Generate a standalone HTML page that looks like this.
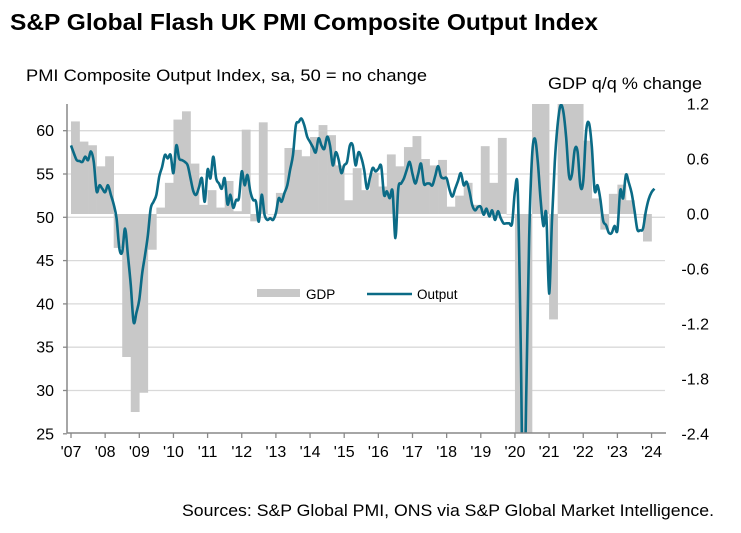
<!DOCTYPE html>
<html><head><meta charset="utf-8"><style>
html,body{margin:0;padding:0;background:#fff;overflow:hidden;width:741px;height:533px;font-family:"Liberation Sans",Arial,sans-serif;}
svg{display:block;}
svg text{font-family:"Liberation Sans",Arial,sans-serif;}
</style></head><body>
<svg id="chart" width="741" height="533" viewBox="0 0 741 533" xmlns="http://www.w3.org/2000/svg">
<rect width="741" height="533" fill="#fff"/>
<text x="10" y="30" font-size="23" font-weight="bold" fill="#000" textLength="588" lengthAdjust="spacingAndGlyphs">S&amp;P Global Flash UK PMI Composite Output Index</text>
<text x="26" y="81" font-size="16.5" fill="#000" textLength="401" lengthAdjust="spacingAndGlyphs">PMI Composite  Output  Index, sa, 50 = no change</text>
<text x="548" y="89" font-size="16.5" fill="#000" textLength="154" lengthAdjust="spacingAndGlyphs">GDP q/q % change</text>
<text x="182" y="516" font-size="16.5" fill="#000" textLength="532" lengthAdjust="spacingAndGlyphs">Sources: S&amp;P Global PMI, ONS via S&amp;P Global Market Intelligence.</text>
<defs><clipPath id="plotclip"><rect x="67" y="104" width="600" height="329"/></clipPath></defs>
<g id="grid"></g>
<g id="bars" clip-path="url(#plotclip)"></g>
<g id="line" clip-path="url(#plotclip)"></g>
<g id="axes"></g>
<g>
<rect x="257" y="289" width="43" height="8" fill="#c8c8c8"/>
<text x="306" y="299" font-size="13.5">GDP</text>
<line x1="367" y1="294" x2="412" y2="294" stroke="#0b6b86" stroke-width="2.6"/>
<text x="417" y="299" font-size="13.5">Output</text>
</g>
</svg>
<script>
const pmi = [
58.3,57.4,56.6,56.5,56.4,57.0,56.6,57.6,56.4,53.0,53.7,53.3,
52.9,53.7,52.6,51.5,49.9,46.4,46.0,48.7,45.6,42.2,37.9,39.0,
40.5,43.5,45.6,47.9,51.0,51.8,52.6,54.7,55.8,57.2,56.8,57.2,
55.1,58.3,56.8,56.6,56.4,56.0,54.5,53.0,52.6,53.5,54.5,51.8,
55.5,54.5,57.0,54.5,53.9,53.3,54.5,51.5,52.6,51.1,52.0,52.2,
55.3,53.7,54.9,53.0,52.0,51.8,49.5,52.6,50.3,49.7,49.9,49.7,
50.5,52.2,51.8,52.8,53.7,55.5,57.2,60.6,61.0,61.4,60.6,59.3,
58.7,58.1,57.5,59.1,58.3,57.9,59.3,58.3,56.0,57.5,56.7,55.1,
56.0,56.4,58.3,58.3,56.0,57.5,56.9,55.5,53.3,54.5,55.7,55.3,
55.6,55.9,52.6,53.0,52.2,53.0,47.6,53.3,53.9,54.5,55.5,56.4,
55.0,53.9,55.0,56.2,53.9,53.9,53.9,53.7,54.8,55.9,54.7,54.5,
54.5,53.2,52.4,53.3,54.2,55.1,53.7,54.1,53.0,51.4,50.8,51.2,
51.2,50.3,51.0,50.1,50.8,49.7,50.7,49.9,49.3,49.3,49.3,49.3,
53.0,53.0,36.0,13.8,30.0,47.7,57.0,59.1,56.5,52.1,49.0,50.4,
41.2,49.6,56.4,60.7,62.9,62.2,59.2,54.8,54.9,57.8,57.6,53.6,
54.2,59.9,60.9,58.2,53.1,53.7,52.1,49.6,49.1,48.2,48.2,49.0,
48.5,53.1,52.2,54.9,54.0,52.8,50.8,48.6,48.5,48.7,50.7,52.1,
52.9,53.3];
const gdp = [
1.01,0.79,0.75,0.52, 0.63,-0.37,-1.56,-2.16, -1.95,-0.39,0.07,0.34,
1.03,1.12,0.55,0.10, 0.26,0.07,0.36,0.03, 0.92,-0.08,1.00,0.00,
0.23,0.72,0.70,0.63, 0.84,0.97,0.86,0.53, 0.15,0.50,0.26,0.45,
0.30,0.65,0.52,0.73, 0.85,0.60,0.53,0.59, 0.08,0.20,0.34,0.10,
0.74,0.34,0.83,0.00, -2.6,-20,16,1.3, -1.15,5.5,1.6,1.5,
0.80,0.17,-0.17,0.22, 0.32,0.15,0.00,-0.30];
const yearLabels = ["'07","'08","'09","'10","'11","'12","'13","'14","'15","'16","'17","'18","'19","'20","'21","'22","'23","'24"];
const leftTicks = [25,30,35,40,45,50,55,60];
const rightTicks = ["1.2","0.6","0.0","-0.6","-1.2","-1.8","-2.4"];

const NS="http://www.w3.org/2000/svg";
const X0=71, YEARW=34.15;
const xMonth = m => X0 + m*YEARW/12;
const xQuarter = q => X0 + q*YEARW/4;
const yL = v => 217.3 - (v-50)*8.66;
const yR = v => 214 - v*91.67;
function mk(tag, attrs, parent){const e=document.createElementNS(NS,tag);for(const k in attrs)e.setAttribute(k,attrs[k]);parent.appendChild(e);return e;}

const grid=document.getElementById('grid'), axes=document.getElementById('axes');
leftTicks.forEach(v=>{
  if(v>25){const g=mk('line',{x1:67,x2:665,y1:yL(v),y2:yL(v),stroke:'#d9d9d9','stroke-width':1.3},grid);
  
  }
  const tk=mk('line',{x1:63,x2:67,y1:yL(v),y2:yL(v),stroke:'#888','stroke-width':1.3},axes);
  
  
  const t=mk('text',{x:54,y:yL(v)+5.5,'font-size':16,'text-anchor':'end'},axes);
  t.textContent=v;
  
  
});
rightTicks.forEach(s=>{
  const t=mk('text',{x:709,y:yR(parseFloat(s))+5.5,'font-size':16,'text-anchor':'end'},axes);
  t.textContent=s;
  
  
});
const bars=document.getElementById('bars');
gdp.forEach((v,i)=>{
  const y1=yR(Math.max(v,0)), y2=yR(Math.min(v,0));
  const r=mk('rect',{x:xQuarter(i),y:y1,width:YEARW/4+0.3,height:Math.max(y2-y1,0.5),fill:'#c8c8c8'},bars);
  
  
});
const pts=pmi.map((v,i)=>[xMonth(i),yL(v)]);
let d=`M${pts[0][0]},${pts[0][1]}`;
for(let i=0;i<pts.length-1;i++){
  const p0=pts[Math.max(i-1,0)],p1=pts[i],p2=pts[i+1],p3=pts[Math.min(i+2,pts.length-1)];
  const c1=[p1[0]+(p2[0]-p0[0])/6,p1[1]+(p2[1]-p0[1])/6];
  const c2=[p2[0]-(p3[0]-p1[0])/6,p2[1]-(p3[1]-p1[1])/6];
  d+=` C${c1[0].toFixed(2)},${c1[1].toFixed(2)} ${c2[0].toFixed(2)},${c2[1].toFixed(2)} ${p2[0].toFixed(2)},${p2[1].toFixed(2)}`;
}
const line=mk('path',{d:d,fill:'none',stroke:'#0b6b86','stroke-width':2.6,'stroke-linejoin':'round'},document.getElementById('line'));



const ya=mk('line',{x1:67,x2:67,y1:104,y2:433,stroke:'#888','stroke-width':1.5},axes);


const xa=mk('line',{x1:67,x2:666,y1:433,y2:433,stroke:'#888','stroke-width':1.5},axes);


yearLabels.forEach((s,i)=>{
  const x=X0+i*YEARW;
  const tk=mk('line',{x1:x,x2:x,y1:433,y2:438,stroke:'#888','stroke-width':1.3},axes);
  
  
  const t=mk('text',{x:x,y:457,'font-size':16,'text-anchor':'middle'},axes);
  t.textContent=s;
  
  
});
</script>
</body></html>
